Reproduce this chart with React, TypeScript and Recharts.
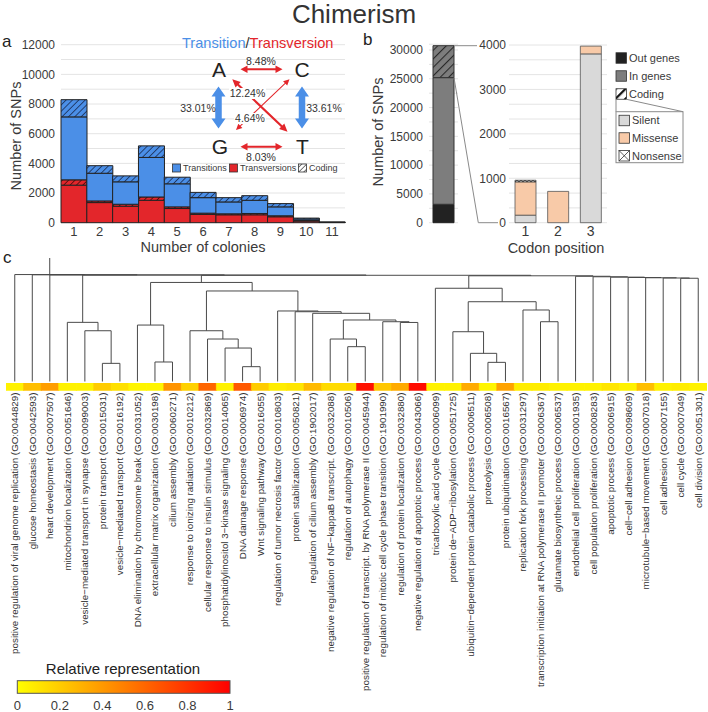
import React from "react";
import { BarChart, Bar, XAxis, YAxis, CartesianGrid, Cell, ScatterChart, Scatter } from "recharts";

const FONT = "'Liberation Sans', Arial, Helvetica, sans-serif";
const INK = "#3a3a3a";
const BLUE = "#4b8fe7";
const RED = "#e3262b";

// ---- panel a : SNPs by number of colonies
const colonies = ["1", "2", "3", "4", "5", "6", "7", "8", "9", "10", "11"];
const transversions = [2530, 1356, 1111, 1511, 956, 556, 533, 533, 400, 110, 15];
const transversionsCoding = [360, 111, 133, 222, 111, 88, 67, 89, 67, 40, 5];
const transitions = [4244, 1866, 1512, 2667, 1555, 1045, 800, 889, 600, 100, 10];
const transitionsCoding = [1160, 511, 400, 780, 445, 355, 289, 311, 222, 60, 5];
const aTicks = [0, 1000, 2000, 3000, 4000, 5000, 6000, 7000, 8000, 9000, 10000, 11000, 12000];

// ---- panel b : SNP location and codon position
const snpSet = ["all"];
const outGenes = [3200];
const inGenes = [22000];
const codingSnps = [5550];
const bLeftTicks = [0, 2500, 5000, 7500, 10000, 12500, 15000, 17500, 20000, 22500, 25000, 27500, 30000];
const codonPositions = ["1", "2", "3"];
const silent = [170, 0, 3800];
const missense = [750, 705, 175];
const nonsense = [35, 0, 0];
const bRightTicks = Array.from({ length: 13 }, (_, i) => (i * 1000) / 3);

// ---- panel c : GO term clustering
const goTerms = [
  "positive regulation of viral genome replication (GO:0044829)",
  "glucose homeostasis (GO:0042593)",
  "heart development (GO:0007507)",
  "mitochondrion localization (GO:0051646)",
  "vesicle\u2212mediated transport in synapse (GO:0099003)",
  "protein transport (GO:0015031)",
  "vesicle\u2212mediated transport (GO:0016192)",
  "DNA elimination by chromosome break (GO:0031052)",
  "extracellular matrix organization (GO:0030198)",
  "cilium assembly (GO:0060271)",
  "response to ionizing radiation (GO:0010212)",
  "cellular response to insulin stimulus (GO:0032869)",
  "phosphatidylinositol 3\u2212kinase signaling (GO:0014065)",
  "DNA damage response (GO:0006974)",
  "Wnt signaling pathway (GO:0016055)",
  "regulation of tumor necrosis factor (GO:0010803)",
  "protein stabilization (GO:0050821)",
  "regulation of cilium assembly (GO:1902017)",
  "negative regulation of NF\u2212kappaB transcript. (GO:0032088)",
  "regulation of autophagy (GO:0010506)",
  "positive regulation of transcript. by RNA polymerase II (GO:0045944)",
  "regulation of mitotic cell cycle phase transition (GO:1901990)",
  "regulation of protein localization (GO:0032880)",
  "negative regulation of apoptotic process (GO:0043066)",
  "tricarboxylic acid cycle (GO:0006099)",
  "protein de\u2212ADP\u2212ribosylation (GO:0051725)",
  "ubiquitin\u2212dependent protein catabolic process (GO:0006511)",
  "proteolysis (GO:0006508)",
  "protein ubiquitination (GO:0016567)",
  "replication fork processing (GO:0031297)",
  "transcription initiation at RNA polymerase II promoter (GO:0006367)",
  "glutamate biosynthetic process (GO:0006537)",
  "endothelial cell proliferation (GO:0001935)",
  "cell population proliferation (GO:0008283)",
  "apoptotic process (GO:0006915)",
  "cell\u2212cell adhesion (GO:0098609)",
  "microtubule\u2212based movement (GO:0007018)",
  "cell adhesion (GO:0007155)",
  "cell cycle (GO:0007049)",
  "cell division (GO:0051301)",
];
const representation = [
  0.05, 0.25, 0.38, 0.05, 0.05, 0.2, 0.12, 0.04, 0.04, 0.42,
  0.18, 0.6, 0.05, 0.65, 0.2, 0.07, 0.1, 0.27, 0.14, 0.14,
  0.93, 0.22, 0.33, 0.95, 0.05, 0.05, 0.33, 0.04, 0.36, 0.07,
  0.07, 0.05, 0.05, 0.05, 0.1, 0.05, 0.25, 0.05, 0.07, 0.05,
];
// hclust-style merges: negative = leaf number, positive = earlier merge; last value = height
const merges: [number, number, number][] = [
  [-6, -7, 0.147], [-5, 1, 0.411], [-4, 2, 0.479],
  [-9, -10, 0.158], [-8, 4, 0.457],
  [-14, -15, 0.12], [-13, 6, 0.271], [-12, 7, 0.344], [-11, 8, 0.411],
  [-20, -21, 0.282], [-19, 10, 0.344], [-23, -24, 0.478], [-22, 12, 0.484],
  [11, 13, 0.498], [-18, 14, 0.552], [-17, 15, 0.565], [-16, 16, 0.571],
  [9, 17, 0.733], [5, 18, 0.802],
  [-28, -29, 0.155], [-27, 20, 0.228], [-26, 21, 0.403],
  [-31, -32, 0.484], [-30, 23, 0.579], [22, 24, 0.646], [-25, 25, 0.755],
  [-39, -40, 0.836], [-38, 27, 0.838], [-37, 28, 0.84], [-36, 29, 0.842],
  [-35, 30, 0.845], [-34, 31, 0.848], [-33, 32, 0.852],
  [26, 33, 0.856], [19, 34, 0.86], [3, 35, 0.862],
  [-3, 36, 0.863], [-2, 37, 0.864], [-1, 38, 0.866],
];
const rootTop = 1;
const repTicks = [0, 0.2, 0.4, 0.6, 0.8, 1];

const heat = (v: number) => `rgb(255, ${Math.round(255 * (1 - v))}, 0)`;

const colonyData = colonies.map((c, i) => ({
  c,
  tv: transversions[i],
  tvc: transversionsCoding[i],
  ts: transitions[i],
  tsc: transitionsCoding[i],
}));
const locationData = snpSet.map((g, i) => ({ g, out: outGenes[i], inG: inGenes[i], cod: codingSnps[i] }));
const codonData = codonPositions.map((p, i) => ({ p, sil: silent[i], mis: missense[i], non: nonsense[i] }));
const stripData = goTerms.map((term, i) => ({ term, band: 1, rep: representation[i] }));

// dendrogram paths from the merge table
const nodeX: number[] = [];
const nodeH: number[] = [];
const pos = (id: number) => (id < 0 ? { x: -id, h: 0 } : { x: nodeX[id - 1], h: nodeH[id - 1] });
const dendroPaths = merges.map(([a, b, h], i) => {
  const l = pos(a);
  const r = pos(b);
  nodeX[i] = (l.x + r.x) / 2;
  nodeH[i] = h;
  return [
    { x: l.x, y: l.h },
    { x: l.x, y: h },
    { x: r.x, y: h },
    { x: r.x, y: r.h },
  ];
});
const rootX = nodeX[nodeX.length - 1];
const rootH = nodeH[nodeH.length - 1];
dendroPaths.push([
  { x: rootX, y: rootH },
  { x: rootX, y: rootTop },
]);

const tickStyle = { fontSize: 12, fill: INK, fontFamily: FONT };

const GoTick = (props: any) => {
  const { x, y, payload } = props;
  return (
    <text
      x={x}
      y={y}
      transform={`rotate(-90 ${x} ${y})`}
      textAnchor="end"
      dy="0.35em"
      fontSize={9.8}
      fill="#333"
      fontFamily={FONT}
    >
      {payload.value}
    </text>
  );
};

// polygon for a straight arrow, optionally double headed
const arrowPts = (x1: number, y1: number, x2: number, y2: number, shaft: number, head: number, len: number, both: boolean) => {
  const dx = x2 - x1;
  const dy = y2 - y1;
  const L = Math.hypot(dx, dy);
  const ux = dx / L;
  const uy = dy / L;
  const nx = -uy;
  const ny = ux;
  const p = (d: number, o: number) => `${x1 + ux * d + nx * o},${y1 + uy * d + ny * o}`;
  const s = shaft / 2;
  const hw = head / 2;
  const a = both ? len : 0;
  const pts = [
    both ? p(0, 0) : p(0, s),
    ...(both ? [p(a, hw), p(a, s)] : []),
    p(L - len, s),
    p(L - len, hw),
    p(L, 0),
    p(L - len, -hw),
    p(L - len, -s),
    ...(both ? [p(a, -s), p(a, -hw)] : [p(0, -s)]),
  ];
  return pts.join(" ");
};

const Patterns = () => (
  <svg width={0} height={0} style={{ position: "absolute" }}>
    <defs>
      <pattern id="hatchBlue" patternUnits="userSpaceOnUse" width="4.5" height="4.5" patternTransform="rotate(45)">
        <rect width="4.5" height="4.5" fill={BLUE} />
        <line x1="0" y1="0" x2="0" y2="4.5" stroke="#16264a" strokeWidth="1.5" />
      </pattern>
      <pattern id="hatchRed" patternUnits="userSpaceOnUse" width="4.5" height="4.5" patternTransform="rotate(45)">
        <rect width="4.5" height="4.5" fill={RED} />
        <line x1="0" y1="0" x2="0" y2="4.5" stroke="#3a0808" strokeWidth="1.5" />
      </pattern>
      <pattern id="hatchGray" patternUnits="userSpaceOnUse" width="6" height="6" patternTransform="rotate(45)">
        <rect width="6" height="6" fill="#7d7d7d" />
        <line x1="0" y1="0" x2="0" y2="6" stroke="#2a2a2a" strokeWidth="2.2" />
      </pattern>
      <pattern id="hatchWhite" patternUnits="userSpaceOnUse" width="3.5" height="3.5" patternTransform="rotate(45)">
        <rect width="3.5" height="3.5" fill="#fff" />
        <line x1="0" y1="0" x2="0" y2="3.5" stroke="#222" strokeWidth="1.2" />
      </pattern>
      <pattern id="hatchBold" patternUnits="userSpaceOnUse" width="7" height="7" patternTransform="rotate(45)">
        <rect width="7" height="7" fill="#fff" />
        <line x1="0" y1="0" x2="0" y2="7" stroke="#111" strokeWidth="4.5" />
      </pattern>
      <pattern id="cross" patternUnits="userSpaceOnUse" width="4" height="4">
        <rect width="4" height="4" fill="#fff" />
        <path d="M0,0 L4,4 M4,0 L0,4" stroke="#222" strokeWidth="0.8" />
      </pattern>
      <linearGradient id="heatGrad" x1="0" x2="1" y1="0" y2="0">
        <stop offset="0" stopColor={heat(0)} />
        <stop offset="1" stopColor={heat(1)} />
      </linearGradient>
    </defs>
  </svg>
);

const LegendBox = ({ x, y, fill, label, size = 10.5, fs = 11 }: any) => (
  <g>
    <rect x={x} y={y - size / 2} width={size} height={size} fill={fill} stroke="#333" strokeWidth={0.8} />
    <text x={x + size + 2.5} y={y} dy="0.35em" fontSize={fs} fill={INK}>
      {label}
    </text>
  </g>
);

const Overlay = () => (
  <svg
    width={708}
    height={712}
    style={{ position: "absolute", left: 0, top: 0, pointerEvents: "none" }}
    fontFamily={FONT}
  >
    <text x={354} y={23} textAnchor="middle" fontSize={26} fill="#333">
      Chimerism
    </text>
    <text x={2} y={47} fontSize={17} fill="#222">a</text>
    <text x={363} y={45} fontSize={17} fill="#222">b</text>
    <text x={3} y={263} fontSize={17} fill="#222">c</text>

    {/* panel a labels */}
    <text x={16} y={136} transform="rotate(-90 16 136)" textAnchor="middle" dy="0.35em" fontSize={14.5} fill={INK}>
      Number of SNPs
    </text>
    <text x={203} y={247} textAnchor="middle" dy="0.35em" fontSize={14.5} fill={INK}>
      Number of colonies
    </text>

    {/* transition / transversion inset */}
    <text x={182} y={48} fontSize={14.6}>
      <tspan fill={BLUE}>Transition</tspan>
      <tspan fill="#333">/</tspan>
      <tspan fill={RED}>Transversion</tspan>
    </text>
    <g fontSize={21} fill="#222" textAnchor="middle">
      <text x={219} y={77}>A</text>
      <text x={302} y={77}>C</text>
      <text x={220} y={154}>G</text>
      <text x={302.5} y={154}>T</text>
    </g>
    <polygon points={arrowPts(240.5, 69.3, 282.5, 69.3, 2, 7.5, 7, true)} fill={RED} />
    <polygon points={arrowPts(240.5, 146.7, 282.5, 146.7, 2, 7.5, 7, true)} fill={RED} />
    <polygon points={arrowPts(218.5, 86.5, 218.5, 128.5, 6.5, 14, 10, true)} fill={BLUE} />
    <polygon points={arrowPts(302, 86.5, 302, 128.5, 6.5, 14, 10, true)} fill={BLUE} />
    <polygon points={arrowPts(289.5, 79.3, 236, 130, 1, 6, 6, true)} fill={RED} />
    <polygon points={arrowPts(232.3, 79.3, 287.5, 131.7, 2.2, 7.5, 8, true)} fill={RED} />
    <g fontSize={10.5} fill="#333" textAnchor="middle">
      <text x={261} y={64.5}>8.48%</text>
      <text x={261} y={160.5}>8.03%</text>
      <text x={198} y={111.5}>33.01%</text>
      <text x={324} y={111.5}>33.61%</text>
      <rect x={229} y={88} width={37} height={11} fill="#fff" />
      <text x={247.5} y={97}>12.24%</text>
      <rect x={234} y={113} width={32} height={11} fill="#fff" />
      <text x={250} y={122}>4.64%</text>
    </g>
    <LegendBox x={172.5} y={168} size={8} fs={9} fill={BLUE} label="Transitions" />
    <LegendBox x={229.5} y={168} size={8} fs={9} fill={RED} label="Transversions" />
    <LegendBox x={298.5} y={168} size={8} fs={9} fill="url(#hatchWhite)" label="Coding" />

    {/* panel b labels */}
    <text x={378} y={132} transform="rotate(-90 378 132)" textAnchor="middle" dy="0.35em" fontSize={14.5} fill={INK}>
      Number of SNPs
    </text>
    <text x={556} y={248} textAnchor="middle" dy="0.35em" fontSize={14.5} fill={INK}>
      Codon position
    </text>
    <polyline points="454,45.7 477,45.7" fill="none" stroke="#8a8a8a" strokeWidth={1} />
    <polyline points="454,77.7 478.3,222.7 498,222.7" fill="none" stroke="#8a8a8a" strokeWidth={1} />
    <LegendBox x={616} y={58} fill="#222" label="Out genes" />
    <LegendBox x={616} y={76} fill="#7d7d7d" label="In genes" />
    <LegendBox x={616} y={94} fill="url(#hatchBold)" label="Coding" />
    <polyline points="616,99.3 616,111.7" fill="none" stroke="#8a8a8a" />
    <polyline points="626.5,99.3 683,111.7" fill="none" stroke="#8a8a8a" />
    <rect x={616} y={111.7} width={67} height={51} fill="none" stroke="#8a8a8a" strokeWidth={1} />
    <LegendBox x={619} y={120.5} fill="#d9d9d9" label="Silent" />
    <LegendBox x={619} y={138} fill="#f8caa8" label="Missense" />
    <g>
      <rect x={619} y={150.5} width={10.5} height={10.5} fill="#fff" stroke="#333" strokeWidth={0.8} />
      <path d="M619,150.5 L629.5,161 M629.5,150.5 L619,161" stroke="#333" strokeWidth={0.8} />
      <text x={632} y={155.7} dy="0.35em" fontSize={11} fill={INK}>
        Nonsense
      </text>
    </g>

    {/* colour key for panel c */}
    <text x={123} y={674} textAnchor="middle" fontSize={15} fill="#222">
      Relative representation
    </text>
    <rect x={17.3} y={680.7} width={212.7} height={12.6} fill="url(#heatGrad)" stroke="#555" strokeWidth={1} />
    {repTicks.map((t) => (
      <text key={t} x={17.3 + t * 212.7} y={710} textAnchor="middle" fontSize={13} fill={INK}>
        {String(t)}
      </text>
    ))}
  </svg>
);

export default function App() {
  return (
    <div
      style={{
        position: "absolute",
        left: 0,
        top: 0,
        width: 708,
        height: 712,
        background: "#fff",
        overflow: "hidden",
        fontFamily: FONT,
      }}
    >
      <Patterns />

      {/* panel a */}
      <div style={{ position: "absolute", left: 0, top: 0 }}>
        <BarChart
          width={350}
          height={260}
          data={colonyData}
          margin={{ top: 44.7, right: 5, bottom: 0, left: 0 }}
          barCategoryGap={0}
        >
          <CartesianGrid vertical={false} stroke="#e4e4e4" />
          <XAxis
            dataKey="c"
            height={37.3}
            interval={0}
            tickLine={false}
            axisLine={false}
            tickSize={0}
            tickMargin={4}
            tick={{ ...tickStyle, fontSize: 13 }}
          />
          <YAxis
            width={61}
            domain={[0, 12000]}
            ticks={aTicks}
            tickFormatter={(v: number) => (v % 2000 === 0 ? String(v) : "")}
            tickLine={false}
            axisLine={false}
            tickSize={0}
            tickMargin={6}
            tick={tickStyle}
          />
          <Bar dataKey="tv" stackId="s" fill={RED} stroke="#222" strokeWidth={1} isAnimationActive={false} />
          <Bar dataKey="tvc" stackId="s" fill="url(#hatchRed)" stroke="#222" strokeWidth={1} isAnimationActive={false} />
          <Bar dataKey="ts" stackId="s" fill={BLUE} stroke="#222" strokeWidth={1} isAnimationActive={false} />
          <Bar dataKey="tsc" stackId="s" fill="url(#hatchBlue)" stroke="#222" strokeWidth={1} isAnimationActive={false} />
        </BarChart>
      </div>

      {/* panel b, all SNPs */}
      <div style={{ position: "absolute", left: 381, top: 0 }}>
        <BarChart
          width={77}
          height={260}
          data={locationData}
          margin={{ top: 44.24, right: 0, bottom: 37.3, left: 0 }}
        >
          <CartesianGrid vertical={false} stroke="#e4e4e4" />
          <XAxis dataKey="g" hide />
          <YAxis
            width={48}
            domain={[0, 31000]}
            ticks={bLeftTicks}
            tickFormatter={(v: number) => (v % 5000 === 0 ? String(v) : "")}
            tickLine={false}
            axisLine={false}
            tickSize={0}
            tickMargin={6}
            tick={tickStyle}
          />
          <Bar dataKey="out" stackId="s" barSize={21} fill="#222" stroke="#222" strokeWidth={1} isAnimationActive={false} />
          <Bar dataKey="inG" stackId="s" barSize={21} fill="#7d7d7d" stroke="#333" strokeWidth={1} isAnimationActive={false} />
          <Bar dataKey="cod" stackId="s" barSize={21} fill="url(#hatchGray)" stroke="#333" strokeWidth={1} isAnimationActive={false} />
        </BarChart>
      </div>

      {/* panel b, coding SNPs by codon position */}
      <div style={{ position: "absolute", left: 461, top: 0 }}>
        <BarChart
          width={146}
          height={260}
          data={codonData}
          margin={{ top: 45, right: 0, bottom: 0, left: 0 }}
        >
          <CartesianGrid vertical={false} stroke="#e4e4e4" />
          <XAxis
            dataKey="p"
            height={37.3}
            tickLine={false}
            axisLine={false}
            tickSize={0}
            tickMargin={3}
            tick={{ ...tickStyle, fontSize: 14 }}
          />
          <YAxis
            width={48}
            domain={[0, 4000]}
            ticks={bRightTicks}
            tickFormatter={(v: number) => (Math.round(v) % 1000 === 0 ? String(Math.round(v)) : "")}
            tickLine={false}
            axisLine={false}
            tickSize={0}
            tickMargin={3}
            tick={tickStyle}
          />
          <Bar dataKey="sil" stackId="s" barSize={21} fill="#d9d9d9" stroke="#555" strokeWidth={0.8} isAnimationActive={false} />
          <Bar dataKey="mis" stackId="s" barSize={21} fill="#f8caa8" stroke="#555" strokeWidth={0.8} isAnimationActive={false} />
          <Bar dataKey="non" stackId="s" barSize={21} fill="url(#cross)" stroke="#333" strokeWidth={0.8} isAnimationActive={false} />
        </BarChart>
      </div>

      {/* panel c dendrogram */}
      <div style={{ position: "absolute", left: 5.5, top: 258 }}>
        <ScatterChart width={701} height={123.5} margin={{ top: 0, right: 0, bottom: 0, left: 0 }}>
          <XAxis type="number" dataKey="x" domain={[0.5, 40.5]} hide />
          <YAxis type="number" dataKey="y" domain={[0, 1]} hide />
          {dendroPaths.map((p, i) => (
            <Scatter
              key={i}
              data={p}
              line={{ stroke: "#4a4a4a", strokeWidth: 1 }}
              shape={() => <g />}
              isAnimationActive={false}
            />
          ))}
        </ScatterChart>
      </div>

      {/* panel c colour strip and term labels */}
      <div style={{ position: "absolute", left: 5.5, top: 382.5 }}>
        <BarChart
          width={701}
          height={329.5}
          data={stripData}
          margin={{ top: 0, right: 0, bottom: 0, left: 0 }}
          barCategoryGap={0}
        >
          <XAxis
            dataKey="term"
            interval={0}
            height={322}
            tickLine={false}
            axisLine={false}
            tickSize={0}
            tickMargin={2}
            tick={<GoTick />}
          />
          <YAxis hide domain={[0, 1]} />
          <Bar dataKey="band" isAnimationActive={false}>
            {stripData.map((d, i) => (
              <Cell key={i} fill={heat(d.rep)} stroke={heat(d.rep)} strokeWidth={0.5} />
            ))}
          </Bar>
        </BarChart>
      </div>

      <Overlay />
    </div>
  );
}
